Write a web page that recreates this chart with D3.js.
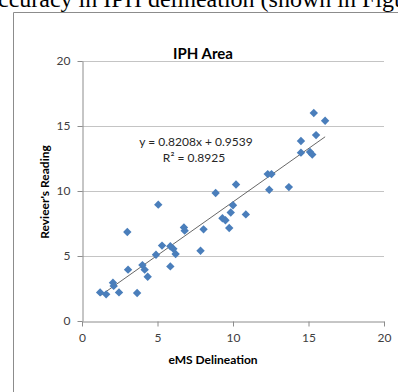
<!DOCTYPE html>
<meta charset="utf-8">
<script src="https://d3js.org/d3.v7.min.js"></script>
<style>
  body { margin: 0; background: #fff; overflow: hidden; }
  svg { display: block; }
</style>
<div id="my_dataviz"></div>
<script>

    // values
    var emsDelineation = [1.2, 1.6, 2.05, 2.1, 2.45, 3.05, 3.0, 3.65, 4.0, 4.15, 4.35, 4.9, 5.05, 5.3,
        5.85, 6.05, 6.2, 5.85, 6.75, 6.8, 8.05, 7.85, 8.85, 9.3, 9.5, 9.75, 9.85, 10.0, 10.2,
        10.85, 12.3, 12.55, 12.4, 13.7, 14.5, 14.5, 15.1, 15.25, 15.5, 15.35, 16.1];
    var reviewerReading = [2.2, 2.05, 2.95, 2.7, 2.2, 3.95, 6.85, 2.15, 4.3, 3.95, 3.4, 5.1, 8.95, 5.8,
        5.75, 5.55, 5.15, 4.2, 7.2, 6.95, 7.05, 5.4, 9.85, 7.9, 7.75, 7.15, 8.35, 8.9, 10.5,
        8.2, 11.3, 11.3, 10.1, 10.3, 13.85, 12.95, 13.0, 12.8, 14.3, 16.0, 15.4];
    var xTicks = [0, 5, 10, 15, 20];
    var yTicks = [0, 5, 10, 15, 20];
    var slope = 0.8208, intercept = 0.9539, rSquared = 0.8925;

    var W = 398, H = 392;
    var svg = d3.select("#my_dataviz")
        .append("svg")
            .attr("width", W)
            .attr("height", H);

    // cropped text of the page around the chart
    svg.append("text")
        .attr("x", -2)
        .attr("y", 7)
        .style("font-family", "'Liberation Serif', 'Times New Roman', serif")
        .style("font-size", "24px")
        .attr("fill", "#000")
        .text("ccuracy in IPH delineation (shown in Figu");

    // chart border (only left and top visible)
    svg.append("path")
        .attr("d", "M13.5," + H + "V12.5H" + W)
        .attr("fill", "none")
        .attr("stroke", "#8c8c8c");

    var x = d3.scaleLinear().domain([0, 20]).range([82, 384]);
    var y = d3.scaleLinear().domain([0, 20]).range([321, 61]);

    // grid lines
    svg.append("g")
        .selectAll("line")
        .data(yTicks.filter(function(d) { return d > 0; }))
        .enter()
        .append("line")
            .attr("x1", x(0)).attr("x2", x(20))
            .attr("y1", function(d) { return Math.round(y(d)) + 0.5; })
            .attr("y2", function(d) { return Math.round(y(d)) + 0.5; })
            .attr("stroke", "#c4c4c4");

    var font = "Lato, 'Open Sans', sans-serif";

    // X axis
    var xAxis = svg.append("g")
        .attr("transform", "translate(0," + (Math.round(y(0)) + 0.5) + ")")
        .call(d3.axisBottom(x).tickValues(xTicks).tickSize(5).tickSizeOuter(0).tickPadding(7));

    // Y axis
    var yAxis = svg.append("g")
        .attr("transform", "translate(" + (Math.round(x(0)) + 0.5) + ",0)")
        .call(d3.axisLeft(y).tickValues(yTicks).tickSize(5).tickSizeOuter(0).tickPadding(7));

    [xAxis, yAxis].forEach(function(g) {
        g.select(".domain").attr("stroke", "#8c8c8c");
        g.selectAll(".tick line").attr("stroke", "#8c8c8c");
        g.selectAll("text")
            .style("font-family", font)
            .style("font-size", "12px")
            .attr("fill", "#404040");
    });

    // trend line over the data range
    var xMin = d3.min(emsDelineation), xMax = d3.max(emsDelineation);
    svg.append("line")
        .attr("x1", x(xMin)).attr("y1", y(slope * xMin + intercept))
        .attr("x2", x(xMax)).attr("y2", y(slope * xMax + intercept))
        .attr("stroke", "#404040")
        .attr("stroke-width", 0.8);

    // points (diamonds)
    var r = 4.2;
    svg.append("g")
        .selectAll("path")
        .data(emsDelineation.map(function(d, i) { return [d, reviewerReading[i]]; }))
        .enter()
        .append("path")
            .attr("transform", function(d) { return "translate(" + x(d[0]) + "," + y(d[1]) + ")"; })
            .attr("d", "M0," + (-r) + "L" + r + ",0L0," + r + "L" + (-r) + ",0Z")
            .attr("fill", "#4a7ebb");

    // title
    svg.append("text")
        .attr("x", 203).attr("y", 59)
        .attr("text-anchor", "middle")
        .style("font-family", font)
        .style("font-size", "15px")
        .style("font-weight", "bold")
        .text("IPH Area");

    // equation
    svg.append("text")
        .attr("x", 196).attr("y", 146)
        .attr("text-anchor", "middle")
        .style("font-family", font)
        .style("font-size", "12px")
        .attr("fill", "#262626")
        .text("y = " + slope + "x + " + intercept);
    svg.append("text")
        .attr("x", 194).attr("y", 162)
        .attr("text-anchor", "middle")
        .style("font-family", font)
        .style("font-size", "12px")
        .attr("fill", "#262626")
        .text("R\u00b2 = " + rSquared);

    // axis titles
    svg.append("text")
        .attr("x", 213).attr("y", 364)
        .attr("text-anchor", "middle")
        .style("font-family", font)
        .style("font-size", "12px")
        .style("font-weight", "bold")
        .text("eMS Delineation");

    svg.append("text")
        .attr("transform", "translate(49,192)rotate(-90)")
        .attr("text-anchor", "middle")
        .style("font-family", font)
        .style("font-size", "12px")
        .style("font-weight", "bold")
        .text("Revieer's Reading");

</script>
